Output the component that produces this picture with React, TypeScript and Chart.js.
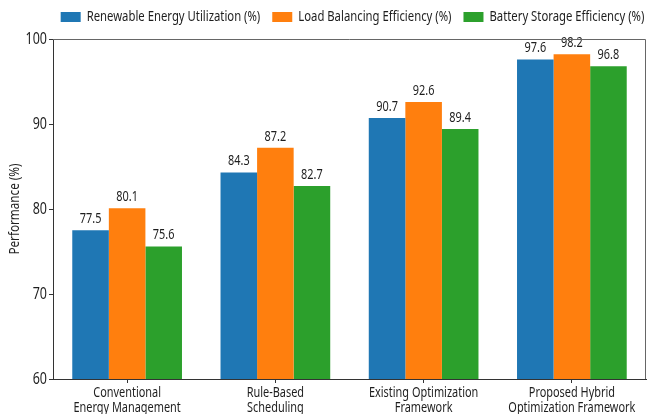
import { useEffect, useRef } from "react";
import { Chart, registerables } from "chart.js";

Chart.register(...registerables);

// Data
const categories: string[][] = [
  ["Conventional", "Energy Management"],
  ["Rule-Based", "Scheduling"],
  ["Existing Optimization", "Framework"],
  ["Proposed Hybrid", "Optimization Framework"],
];
const renewableUtilization = [77.5, 84.3, 90.7, 97.6];
const loadBalancing = [80.1, 87.2, 92.6, 98.2];
const batteryStorage = [75.6, 82.7, 89.4, 96.8];
const seriesLabels = [
  "Renewable Energy Utilization (%)",
  "Load Balancing Efficiency (%)",
  "Battery Storage Efficiency (%)",
];
const seriesColors = ["#1f77b4", "#ff7f0e", "#2ca02c"];
const yMin = 60;
const yMax = 100;
const yStep = 10;
const yTitle = "Performance (%)";

const FONT = '"Noto Sans", "Open Sans", "DejaVu Sans", sans-serif';
const TEXT = "#1e1e1e";
// Horizontal squeeze applied to every text run (narrow lettering)
const SQUEEZE = 0.78;

// Draws all canvas text horizontally condensed around its anchor point
const condensedText = {
  id: "condensedText",
  beforeDraw(chart: any) {
    const ctx = chart.ctx as any;
    if (ctx.__condensed) return;
    const orig = ctx.fillText.bind(ctx);
    ctx.fillText = (text: string, x: number, y: number, maxWidth?: number) => {
      ctx.save();
      ctx.translate(x, y);
      ctx.scale(SQUEEZE, 1);
      if (maxWidth !== undefined && maxWidth !== null) orig(text, 0, 0, maxWidth / SQUEEZE);
      else orig(text, 0, 0);
      ctx.restore();
    };
    ctx.__condensed = true;
  },
};

// Value labels above each bar
const valueLabels = {
  id: "valueLabels",
  afterDatasetsDraw(chart: any) {
    const ctx = chart.ctx;
    ctx.save();
    ctx.font = `14px ${FONT}`;
    ctx.fillStyle = TEXT;
    ctx.textAlign = "center";
    ctx.textBaseline = "bottom";
    chart.data.datasets.forEach((ds: any, i: number) => {
      const meta = chart.getDatasetMeta(i);
      meta.data.forEach((bar: any, j: number) => {
        ctx.fillText(Number(ds.data[j]).toFixed(1), bar.x, bar.y - 4);
      });
    });
    ctx.restore();
  },
};

// Top and right edges of the plot frame
const frame = {
  id: "frame",
  afterDraw(chart: any) {
    const { ctx, chartArea } = chart;
    ctx.save();
    ctx.strokeStyle = "#666666";
    ctx.lineWidth = 1;
    ctx.beginPath();
    ctx.moveTo(chartArea.left, chartArea.top + 0.5);
    ctx.lineTo(chartArea.right - 0.5, chartArea.top + 0.5);
    ctx.lineTo(chartArea.right - 0.5, chartArea.bottom);
    ctx.stroke();
    ctx.restore();
  },
};

// Single-row legend centred over the plot area
const topLegend = {
  id: "topLegend",
  afterDraw(chart: any) {
    const { ctx, chartArea } = chart;
    const boxW = 20;
    const boxH = 10;
    const gapText = 6;
    const gapItem = 12;
    const cy = 17;
    ctx.save();
    ctx.font = `14.5px ${FONT}`;
    const items = chart.data.datasets.map((ds: any) => ({
      label: ds.label,
      color: ds.backgroundColor,
      w: ctx.measureText(ds.label).width * SQUEEZE,
    }));
    const total =
      items.reduce((s: number, it: any) => s + boxW + gapText + it.w, 0) +
      gapItem * (items.length - 1);
    let x = (chartArea.left + chartArea.right) / 2 + 3 - total / 2;
    ctx.textBaseline = "middle";
    ctx.textAlign = "left";
    items.forEach((it: any) => {
      ctx.fillStyle = it.color;
      ctx.fillRect(x, cy - boxH / 2, boxW, boxH);
      ctx.fillStyle = TEXT;
      ctx.fillText(it.label, x + boxW + gapText, cy);
      x += boxW + gapText + it.w + gapItem;
    });
    ctx.restore();
  },
};

export default function App() {
  const canvasRef = useRef<HTMLCanvasElement | null>(null);

  useEffect(() => {
    const canvas = canvasRef.current;
    if (!canvas) return;
    Chart.defaults.font.family = FONT;
    Chart.defaults.color = TEXT;

    const seriesData = [renewableUtilization, loadBalancing, batteryStorage];
    const chart = new Chart(canvas, {
      type: "bar",
      data: {
        labels: categories,
        datasets: seriesData.map((d, i) => ({
          label: seriesLabels[i],
          data: d,
          backgroundColor: seriesColors[i],
          borderWidth: 0,
          categoryPercentage: 0.74,
          barPercentage: 1,
        })),
      },
      options: {
        responsive: false,
        animation: false,
        devicePixelRatio: 1,
        layout: { padding: { top: 39, right: 3, left: 0, bottom: 0 } },
        plugins: {
          legend: { display: false },
          tooltip: { enabled: false },
        },
        scales: {
          x: {
            offset: true,
            grid: {
              offset: false,
              drawOnChartArea: false,
              drawTicks: true,
              tickLength: 4,
              color: "#333333",
            },
            border: { display: true, color: "#333333", width: 1 },
            ticks: {
              font: { size: 14, lineHeight: 1.08 },
              color: TEXT,
              padding: 2,
              maxRotation: 0,
              autoSkip: false,
            },
            afterFit(scale: any) {
              scale.height = 35;
              scale.paddingLeft = 0;
              scale.paddingRight = 0;
            },
          },
          y: {
            min: yMin,
            max: yMax,
            grid: {
              drawOnChartArea: false,
              drawTicks: true,
              tickLength: 4,
              color: "#333333",
            },
            border: { display: true, color: "#333333", width: 1 },
            ticks: {
              stepSize: yStep,
              font: { size: 16 },
              color: TEXT,
              padding: 2,
            },
            title: {
              display: true,
              text: yTitle,
              font: { size: 15 },
              color: TEXT,
              padding: { top: 6, bottom: 0 },
            },
            afterFit(scale: any) {
              scale.width = 53;
              scale.paddingTop = 0;
              scale.paddingBottom = 0;
            },
          },
        },
      },
      plugins: [condensedText, valueLabels, frame, topLegend],
    });
    return () => chart.destroy();
  }, []);

  return (
    <div style={{ position: "fixed", left: 0, top: 0, width: 649, height: 414, background: "#ffffff" }}>
      <canvas ref={canvasRef} width={649} height={414} style={{ width: 649, height: 414, display: "block" }} />
    </div>
  );
}
